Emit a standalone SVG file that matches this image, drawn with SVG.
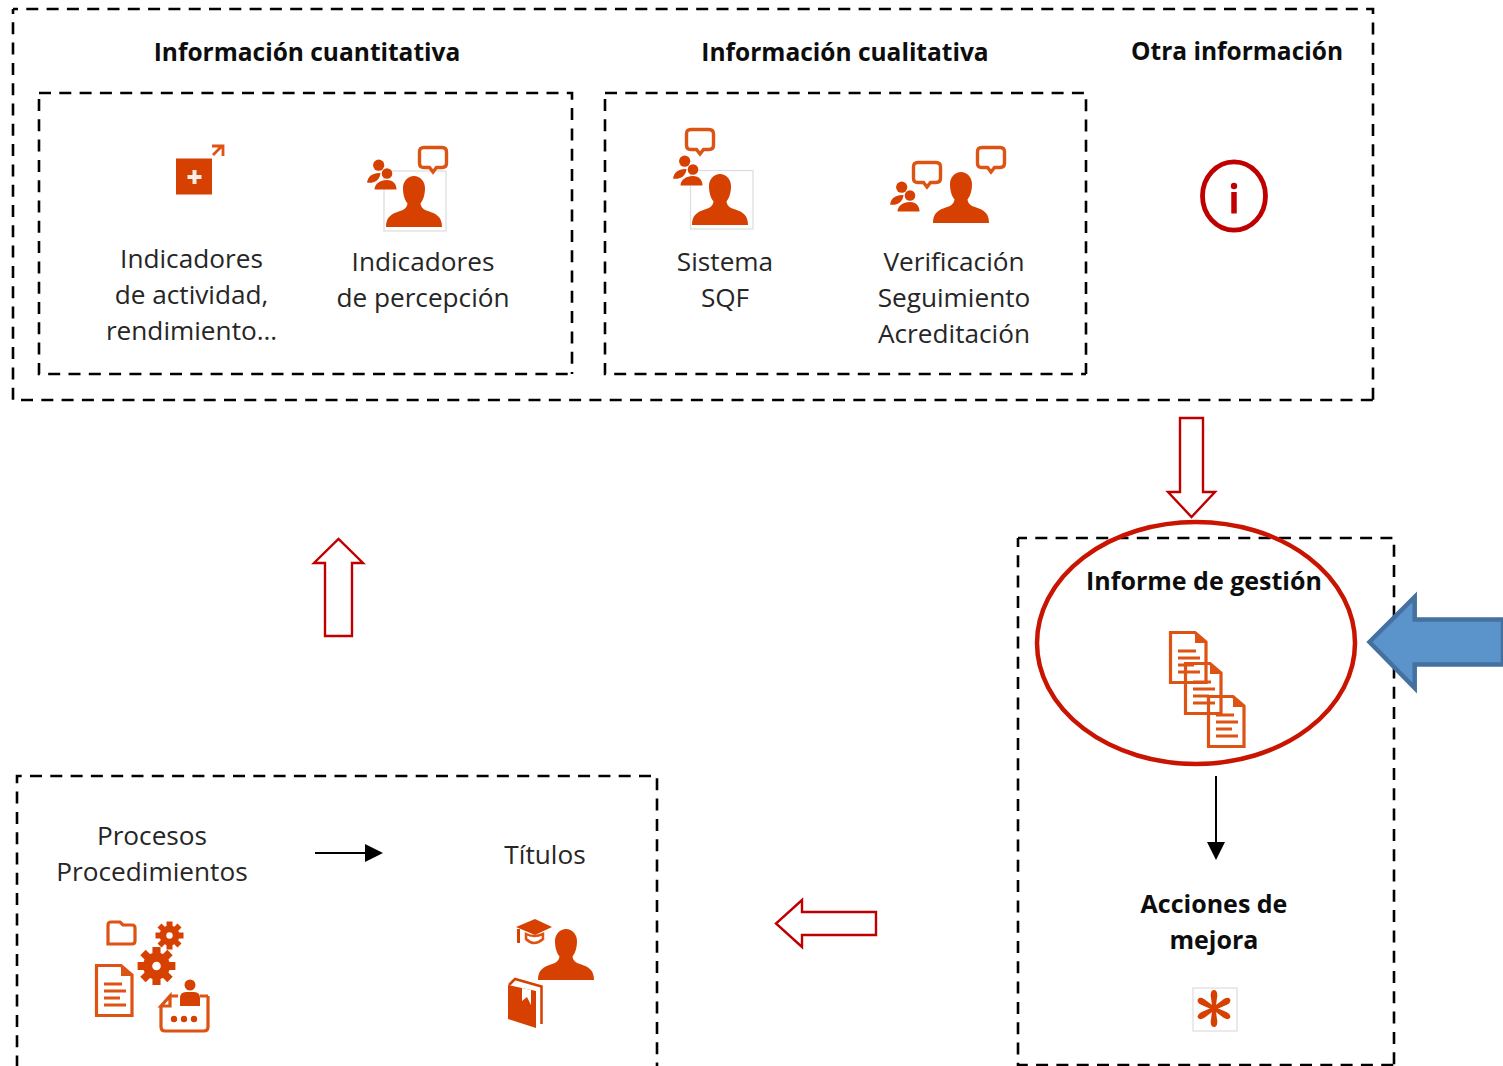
<svg xmlns="http://www.w3.org/2000/svg" width="1503" height="1066" viewBox="0 0 1503 1066">
<style>
text{font-family:"Open Sans","Noto Sans","Liberation Sans",sans-serif;font-size:26.2px;fill:#262626;text-anchor:middle}
.b{font-weight:700;fill:#0d0d0d;font-size:24.5px}
.c{font-size:25px}
.d{fill:none;stroke:#000;stroke-width:2.6;stroke-dasharray:12 8.3}
.o{stroke-dashoffset:7}
.i{fill:#d64000}
.l{fill:none;stroke:#dd5313;stroke-width:3.2}
.t{fill:none;stroke:#dcdcdc;stroke-width:1.2}
.ra{fill:#fff;stroke:#c00000;stroke-width:2.4}
</style>
<defs>
<path id="person" d="M0 51C0 41 5 38 14 35C19 33.500 21 31 21.500 27.500C18 23 17 17 17 12C17 5 22 0 28 0C34 0 39 5 39 12C39 17 38 23 34.500 27.500C35 31 37 33.500 42 35C51 38 56 41 56 51Z"/>
<g id="bubble"><path d="M6 1.500H24Q28.500 1.500 28.500 6V17Q28.500 21.500 24 21.500H18.500L15 26L11.500 21.500H6Q1.500 21.500 1.500 17V6Q1.500 1.500 6 1.500Z" fill="#fff" stroke="#dd5313" stroke-width="3.400"/></g>
<g id="group"><circle cx="11.700" cy="5.200" r="5.600"/><circle cx="20" cy="13.500" r="5.300"/><path d="M0 22.500C1 16 6 12.500 13.500 13C13 18 10 21 7 22C4 23 2 23 0 22.500Z"/><path d="M7.500 29.500C7.500 24 13 20 20 20C26 20 29.500 24 29.500 29.500Z"/></g>
<g id="doc"><path d="M1.500 1.500H26L37 11V51.500H1.500Z" class="l"/><path d="M26 1L38 12H26Z" fill="#dd5313"/><path d="M9 20H27M9 27H31M9 34H25M9 41H31" class="l"/></g>
<g id="gear"><circle r="10"/><path d="M-3-14H3V14H-3ZM-14-3H14V3H-14ZM-12-8L-8-12L12 8L8 12ZM8-12L12-8L-8 12L-12 8Z"/><circle r="3.200" fill="#fff"/></g>
<path id="arm" d="M-1.600 0L-3.300-13Q-3.300-18.500 0-18.500Q3.300-18.500 3.300-13L1.600 0Z"/>
</defs>

<g id="connectors">
<path class="ra" d="M1180 418H1203V492H1215L1191.500 517L1168 492H1180Z"/>
<path class="ra" d="M325 636H352V563H363L338.500 539L314 563H325Z"/>
<path class="ra" d="M876 912V935H802V947L776 923.500L802 900V912Z"/>
<path d="M1216 776V846" stroke="#000" stroke-width="2" fill="none"/>
<path d="M1207 842H1225L1216 860Z"/>
<path d="M315 853H368" stroke="#000" stroke-width="2" fill="none"/>
<path d="M365 844L383 853L365 862Z"/>
</g>

<g id="outer-box"><path class="d o" d="M13 9H1373V400M13 9V400H1373"/></g>

<g id="cuantitativa">
<text class="b" x="307" y="61">Información cuantitativa</text>
<path class="d" d="M39 93H572V374M39 99V374H572"/>
<g id="indicadores-actividad">
<rect class="i" x="176" y="158.500" width="36" height="36"/>
<path d="M187.500 177H201.500M194.500 170V184" stroke="#fff" stroke-width="4" fill="none" opacity=".9"/>
<path d="M213 155L222 146M212 146H223V156" stroke="#dd5313" stroke-width="2.800" fill="none"/>
<text x="191.500" y="268">Indicadores</text><text x="191.500" y="304">de actividad,</text><text x="191.500" y="340">rendimiento…</text>
</g>
<g id="indicadores-percepcion">
<rect class="t" x="384" y="171" width="62" height="60"/>
<use href="#person" x="386" y="176" class="i"/>
<use href="#group" x="367" y="160" class="i"/>
<use href="#bubble" x="418" y="146"/>
<text x="423" y="271">Indicadores</text><text x="423" y="307">de percepción</text>
</g>
</g>

<g id="cualitativa">
<text class="b" x="845" y="61">Información cualitativa</text>
<path class="d" d="M605 93H1086V374M605 99V374H1086"/>
<g id="sistema-sqf">
<rect class="t" x="690.500" y="170.500" width="62.500" height="58.500"/>
<use href="#person" x="692" y="174" class="i"/>
<use href="#group" x="673" y="156" class="i"/>
<use href="#bubble" x="685" y="128"/>
<text x="725" y="271">Sistema</text><text x="725" y="307">SQF</text>
</g>
<g id="verificacion">
<use href="#person" x="933" y="172" class="i"/>
<use href="#group" x="890" y="182" class="i"/>
<use href="#bubble" x="912" y="161"/>
<use href="#bubble" x="976" y="146"/>
<text x="954" y="271">Verificación</text><text x="954" y="307">Seguimiento</text><text x="954" y="343">Acreditación</text>
</g>
</g>

<g id="otra">
<text class="b" x="1237" y="60">Otra información</text>
<ellipse cx="1234" cy="196" rx="31.500" ry="34.200" fill="none" stroke="#c00000" stroke-width="4.800"/>
<circle cx="1234" cy="186" r="3.200" fill="#c00000"/>
<path d="M1234 192V213.500" stroke="#c00000" stroke-width="5.500" fill="none"/>
</g>

<g id="informe">
<path class="d" style="stroke-dashoffset:3" d="M1018 538H1394V1065M1018 538V1065H1394"/>
<text class="b c" x="1204" y="590">Informe de gestión</text>
<use href="#doc" x="1169" y="631"/>
<use href="#doc" x="1184" y="662"/>
<use href="#doc" x="1207" y="695"/>
<ellipse cx="1196" cy="643" rx="159" ry="121" fill="none" stroke="#c81400" stroke-width="4.500"/>
</g>

<g id="acciones">
<text class="b c" x="1214" y="913">Acciones de</text><text class="b c" x="1214" y="949">mejora</text>
<rect class="t" x="1193" y="988" width="44" height="43"/>
<g class="i" transform="translate(1214 1008.500)"><use href="#arm"/><use href="#arm" transform="rotate(60)"/><use href="#arm" transform="rotate(120)"/><use href="#arm" transform="rotate(180)"/><use href="#arm" transform="rotate(240)"/><use href="#arm" transform="rotate(300)"/></g>
</g>

<g id="flecha-azul">
<path d="M1503 619.500H1414.700V597L1369.500 642L1414.700 688V664.500H1503Z" fill="#5b93cb" stroke="#44719f" stroke-width="4.500"/>
</g>

<g id="procesos-titulos">
<path class="d" style="stroke-dashoffset:1.500" d="M17 1066V776H657V1066"/>
<g id="procesos">
<text x="152" y="845">Procesos</text><text x="152" y="881">Procedimientos</text>
<path class="l" d="M108 944V925Q108 922 111 922H120L123 925H132Q135 925 135 928V941Q135 944 132 944H110Z"/>
<use href="#gear" transform="translate(169.500 935.500)" class="i"/>
<use href="#gear" transform="translate(156.500 966) scale(1.350)" class="i"/>
<use href="#doc" x="95" y="964"/>
<path class="l" d="M161 1006L170 996V1006ZM161 1006V1027Q161 1031 165 1031H204Q208 1031 208 1027V996"/>
<path class="l" d="M170 996H178M200 996H208"/>
<circle cx="190" cy="985" r="5.500" class="i"/><path class="i" d="M180 1006V998Q180 992 186 992H194Q200 992 200 998V1006Z"/>
<circle cx="174" cy="1019" r="3.200" class="i"/><circle cx="184" cy="1019" r="3.200" class="i"/><circle cx="194" cy="1019" r="3.200" class="i"/>
</g>
<g id="titulos">
<text x="545" y="864">Títulos</text>
<use href="#person" x="538" y="929" class="i"/>
<path class="i" d="M516 927L535 919L552 927L535 935Z"/>
<path d="M526 934V939Q534 947 543 939V934Q534 938 526 934Z" fill="#fff" stroke="#dd5313" stroke-width="2.500"/>
<path d="M518.500 929V943" stroke="#d64000" stroke-width="3"/>
<path d="M509 985L515 979L541.500 986.500V1024" fill="none" stroke="#d64000" stroke-width="2.500"/>
<path class="i" d="M508 985L536 991V1028L508 1019Z"/>
<path d="M522 988V1001L527 997L531 1005V990Z" fill="#fff"/>
</g>
</g>
</svg>
